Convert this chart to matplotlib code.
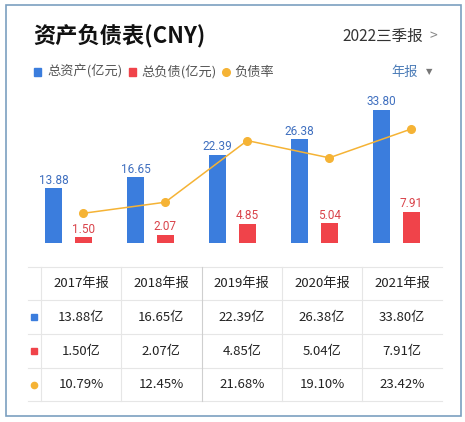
import matplotlib
matplotlib.use("Agg")
import matplotlib.pyplot as plt
from matplotlib.patches import Rectangle
import numpy as np

plt.rcParams['font.family'] = ['Noto Sans CJK SC', 'DejaVu Sans']

# data
years = ['2017年报', '2018年报', '2019年报', '2020年报', '2021年报']
assets = [13.88, 16.65, 22.39, 26.38, 33.80]
liabs = [1.50, 2.07, 4.85, 5.04, 7.91]
ratio = [10.79, 12.45, 21.68, 19.10, 23.42]

BLUE = '#3b7ddd'
RED = '#f0434a'
ORANGE = '#f5b335'
W, H = 465, 422

fig = plt.figure(figsize=(W / 100, H / 100), dpi=100)
fig.patch.set_facecolor('white')


def px_axes(x0, y0, x1, y1):
    # pixel box (top-left origin) -> figure axes
    return fig.add_axes([x0 / W, 1 - y1 / H, (x1 - x0) / W, (y1 - y0) / H])


# overlay in pixel coords for frame, header and table
ov = px_axes(0, 0, W, H)
ov.set_xlim(0, W)
ov.set_ylim(H, 0)
ov.axis('off')
ov.add_patch(Rectangle((6, 5), 454.5, 411, fill=False, ec='#7b9fc0', lw=1.2))

ov.text(33, 36, '资产负债表(CNY)', fontsize=16, fontweight='bold', color='#111111', va='center')
ov.text(423, 36, '2022三季报', fontsize=11.2, color='#333333', va='center', ha='right')
ov.text(433, 36, '>', fontsize=10, color='#888888', va='center', ha='center')

# legend row
ly = 72
ov.add_patch(Rectangle((33.5, ly - 4), 7.5, 7.5, color=BLUE))
ov.text(47, ly, '总资产(亿元)', fontsize=9.5, color='#555555', va='center')
ov.add_patch(Rectangle((128.5, ly - 4), 7.5, 7.5, color=RED))
ov.text(141, ly, '总负债(亿元)', fontsize=9.5, color='#555555', va='center')
ov.plot([226], [ly], 'o', color=ORANGE, ms=5.5)
ov.text(234, ly, '负债率', fontsize=9.5, color='#555555', va='center')
ov.text(418, ly, '年报', fontsize=9.5, color='#4a7bb7', va='center', ha='right')
ov.text(429, ly, '▼', fontsize=6, color='#777777', va='center', ha='center', family='DejaVu Sans')

# chart
ax = px_axes(27.5, 100, 437.5, 243)
x = np.arange(len(years))
off, bw = 0.18, 0.213
ax.bar(x - off, assets, bw, color=BLUE)
ax.bar(x + off, liabs, bw, color=RED)
for i in range(len(years)):
    ax.text(x[i] - off, assets[i] + 0.4, f'{assets[i]:.2f}', ha='center', va='bottom',
            fontsize=8.5, color='#3f6fbf', family='Roboto')
    ax.text(x[i] + off, liabs[i] + 0.4, f'{liabs[i]:.2f}', ha='center', va='bottom',
            fontsize=8.5, color='#d9434a', family='Roboto')
ax.set_xlim(-0.5, 4.5)
ax.set_ylim(0, 36.3)
ax.axis('off')

ax2 = ax.twinx()
ax2.plot(x + off, ratio, '-o', color=ORANGE, lw=1.1, ms=5.5)
ax2.set_ylim(6.34, 27.76)
ax2.axis('off')

# table
line_c = '#e6e6e6'
rows_y = [267, 300, 334, 368, 401]
col_x = [41, 121, 201.5, 282, 362, 442]
for yy in rows_y:
    ov.plot([28, 442], [yy, yy], color=line_c, lw=0.8)
for i, xx in enumerate(col_x[:-1]):
    ov.plot([xx, xx], [267, 401], color='#cfcfcf' if i == 2 else line_c, lw=0.8)

centers = [(col_x[i] + col_x[i + 1]) / 2 for i in range(len(years))]
row_c = [(rows_y[i] + rows_y[i + 1]) / 2 for i in range(4)]
tfs = 9.5
for i, yr in enumerate(years):
    ov.text(centers[i], row_c[0], yr, ha='center', va='center', fontsize=tfs, color='#222222')
    ov.text(centers[i], row_c[1], f'{assets[i]:.2f}亿', ha='center', va='center', fontsize=tfs, color='#222222')
    ov.text(centers[i], row_c[2], f'{liabs[i]:.2f}亿', ha='center', va='center', fontsize=tfs, color='#222222')
    ov.text(centers[i], row_c[3], f'{ratio[i]:.2f}%', ha='center', va='center', fontsize=tfs, color='#222222')

ov.add_patch(Rectangle((31, row_c[1] - 3), 6, 6, color=BLUE))
ov.add_patch(Rectangle((31, row_c[2] - 3), 6, 6, color=RED))
ov.plot([34], [row_c[3]], 'o', color=ORANGE, ms=4.5)

fig.savefig('out.png', dpi=100, facecolor='white')
